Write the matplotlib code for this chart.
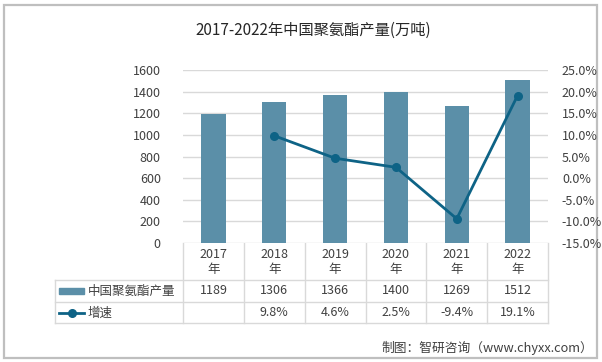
import matplotlib
matplotlib.use("Agg")
import matplotlib.pyplot as plt
import matplotlib.transforms as mtransforms
from matplotlib.lines import Line2D
from matplotlib.patches import Rectangle

plt.rcParams['font.family'] = ['Noto Sans CJK SC', 'DejaVu Sans']

years = ['2017', '2018', '2019', '2020', '2021', '2022']
output = [1189, 1306, 1366, 1400, 1269, 1512]
growth = [None, 9.8, 4.6, 2.5, -9.4, 19.1]
output_label = '中国聚氨酯产量'
growth_label = '增速'
title = '2017-2022年中国聚氨酯产量(万吨)'
source = '制图：智研咨询（www.chyxx.com）'

bar_color = '#5b8fa8'
line_color = '#0e6386'
grid_color = '#d9d9d9'
text_color = '#404040'

W, H = 602, 362
fig = plt.figure(figsize=(W / 100, H / 100), dpi=100)

# overlay in pixel coords for frame, table and texts
ov = fig.add_axes([0, 0, 1, 1], zorder=-1)
ov.set_xlim(0, W)
ov.set_ylim(H, 0)
ov.set_axis_off()

# outer frame
ov.add_patch(Rectangle((3.5, 4.5), 593.5, 353, fill=False, edgecolor='#bfbfbf', lw=1.6))

# plot area
left, right, top, bottom = 183, 548, 70, 243
ax = fig.add_axes([left / W, 1 - bottom / H, (right - left) / W, (bottom - top) / H])
x = list(range(len(years)))
ax.bar(x, output, width=0.4, color=bar_color, zorder=2)
ax.set_xlim(-0.5, len(years) - 0.5)
ax.set_ylim(0, 1600)
ax.set_yticks(range(0, 1601, 200))
ax.yaxis.grid(True, color=grid_color, lw=1)
ax.set_axisbelow(True)
ax.set_xticks([])
for s in ax.spines.values():
    s.set_visible(False)
ax.tick_params(axis='y', length=0, labelsize=9, labelcolor=text_color, pad=16)

ax2 = ax.twinx()
gx = [i for i, g in zip(x, growth) if g is not None]
gy = [g for g in growth if g is not None]
ax2.plot(gx, gy, color=line_color, lw=2, marker='o', markersize=5.5, zorder=3)
ax2.set_ylim(-15, 25)
ax2.set_yticks(range(-15, 26, 5))
ax2.set_yticklabels(['%.1f%%' % v for v in range(-15, 26, 5)])
for s in ax2.spines.values():
    s.set_visible(False)
ax2.tick_params(axis='y', length=0, labelsize=9, labelcolor=text_color, pad=10)

# data table below the plot
tr = mtransforms.blended_transform_factory(ax.transData, ov.transData)
row_y = [243, 280, 302, 323]
leg_left = 55
for b in [i - 0.5 for i in range(len(years) + 1)]:
    ov.add_line(Line2D([b, b], [row_y[0], row_y[-1]], color=grid_color, lw=1, transform=tr))
ov.add_line(Line2D([leg_left, right], [row_y[1], row_y[1]], color=grid_color, lw=1))
ov.add_line(Line2D([leg_left, right], [row_y[2], row_y[2]], color=grid_color, lw=1))
ov.add_line(Line2D([leg_left, right], [row_y[3], row_y[3]], color=grid_color, lw=1))
ov.add_line(Line2D([leg_left, leg_left], [row_y[1], row_y[3]], color=grid_color, lw=1))

for i, yr in enumerate(years):
    ov.text(i, 255, yr, transform=tr, ha='center', va='center', fontsize=9, color=text_color)
    ov.text(i, 270, '年', transform=tr, ha='center', va='center', fontsize=9, color=text_color)
    ov.text(i, 291, str(output[i]), transform=tr, ha='center', va='center', fontsize=9, color=text_color)
    if growth[i] is not None:
        ov.text(i, 313, '%.1f%%' % growth[i], transform=tr, ha='center', va='center',
                fontsize=9, color=text_color)

# legend keys in the table
ov.add_patch(Rectangle((59, 288), 25, 6, color=bar_color))
ov.text(88, 291, output_label, ha='left', va='center', fontsize=9, color=text_color)
ov.add_line(Line2D([59, 84], [313, 313], color=line_color, lw=2))
ov.add_line(Line2D([71.5], [313], color=line_color, marker='o', markersize=5.5))
ov.text(88, 313, growth_label, ha='left', va='center', fontsize=9, color=text_color)

ov.text(313, 30, title, ha='center', va='center', fontsize=11, color='#262626')
ov.text(593, 348, source, ha='right', va='center', fontsize=9.2, color=text_color)

fig.savefig('out.png', dpi=100)
